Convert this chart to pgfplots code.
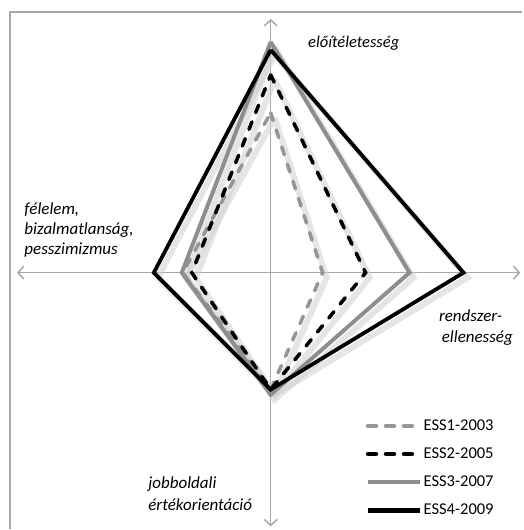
\documentclass[border=0pt]{standalone}
\usepackage{pgfplots}
\pgfplotsset{compat=1.18}
\usepackage{fontspec}
\setmainfont{Carlito}
\usetikzlibrary{arrows.meta}
\definecolor{axgray}{HTML}{A8A8A8}
\definecolor{sgray}{HTML}{8E8E8E}
\definecolor{dgray}{HTML}{969696}
\definecolor{shad}{HTML}{D0D0D0}
\begin{document}
\begin{tikzpicture}
\begin{axis}[
  scale only axis, width=523bp, height=530bp,
  xmin=-271, xmax=252, ymin=-257, ymax=273,
  hide axis, clip=false,
  legend style={at={(axis cs:92,-145)}, anchor=north west, draw=none, fill=none,
    font=\fontsize{16.5bp}{19bp}\selectfont, row sep=16bp,
    nodes={inner xsep=1.5bp, inner ysep=0pt}},
  legend cell align=left,
  legend image code/.code={\draw[#1, line width=4.5bp] (0bp,0bp) -- (52bp,0bp);},
]
\path (rel axis cs:0,0) rectangle (rel axis cs:1,1);
% frame
\draw[axgray, line width=1.2bp] (axis cs:-261,-257) -- (axis cs:-261,261) -- (axis cs:252,261);
% axes
\draw[axgray, line width=1.5bp, {Straight Barb[length=6bp,width=13bp]}-{Straight Barb[length=6bp,width=13bp]}] (axis cs:-254,0) -- (axis cs:250,0);
\draw[axgray, line width=1.5bp, {Straight Barb[length=6bp,width=13bp]}-{Straight Barb[length=6bp,width=13bp]}] (axis cs:0,-254) -- (axis cs:0,254);
% shadows
\begin{scope}[xshift=2bp, yshift=-2.5bp]
\addplot[forget plot, shad, line width=6bp, opacity=0.55] coordinates {(0,160) (52,0) (0,-117) (-88,0) (0,160)};
\addplot[forget plot, shad, line width=6bp, opacity=0.55] coordinates {(0,198) (95,0) (0,-117) (-79,0) (0,198)};
\addplot[forget plot, shad, line width=6bp, opacity=0.55] coordinates {(0,231) (139,0) (0,-122) (-89,0) (0,231)};
\addplot[forget plot, shad, line width=6bp, opacity=0.55] coordinates {(0,223) (193,0) (0,-117) (-117,0) (0,223)};
\end{scope}
\addplot[dgray, line width=3.6bp, line cap=round, line join=miter, dash pattern=on 8bp off 10bp] coordinates {(0,160) (52,0) (0,-117) (-88,0) (0,160)};
\addlegendentry{ESS1-2003}
\addplot[black, line width=3.6bp, line cap=round, line join=miter, dash pattern=on 8bp off 10bp] coordinates {(0,198) (95,0) (0,-117) (-79,0) (0,198)};
\addlegendentry{ESS2-2005}
\addplot[sgray, line width=4bp, line join=miter] coordinates {(0,231) (139,0) (0,-122) (-89,0) (0,231)};
\addlegendentry{ESS3-2007}
\addplot[black, line width=3.8bp, line join=miter] coordinates {(0,223) (193,0) (0,-117) (-117,0) (0,223)};
\addlegendentry{ESS4-2009}
% labels
\node[anchor=west, font=\fontsize{16.5bp}{19bp}\selectfont\itshape] at (axis cs:34,230) {előítéletesség};
\node[anchor=west, align=left, font=\fontsize{17bp}{20bp}\selectfont\itshape] at (axis cs:-250,43) {félelem,\\bizalmatlanság,\\pesszimizmus};
\node[anchor=west, align=left, font=\fontsize{17bp}{21bp}\selectfont\itshape] at (axis cs:165,-55) {rendszer-\\\,ellenesség};
\node[anchor=west, align=left, font=\fontsize{17bp}{22bp}\selectfont\itshape] at (axis cs:-126,-221) {jobboldali\\értékorientáció};
\end{axis}
\end{tikzpicture}
\end{document}
